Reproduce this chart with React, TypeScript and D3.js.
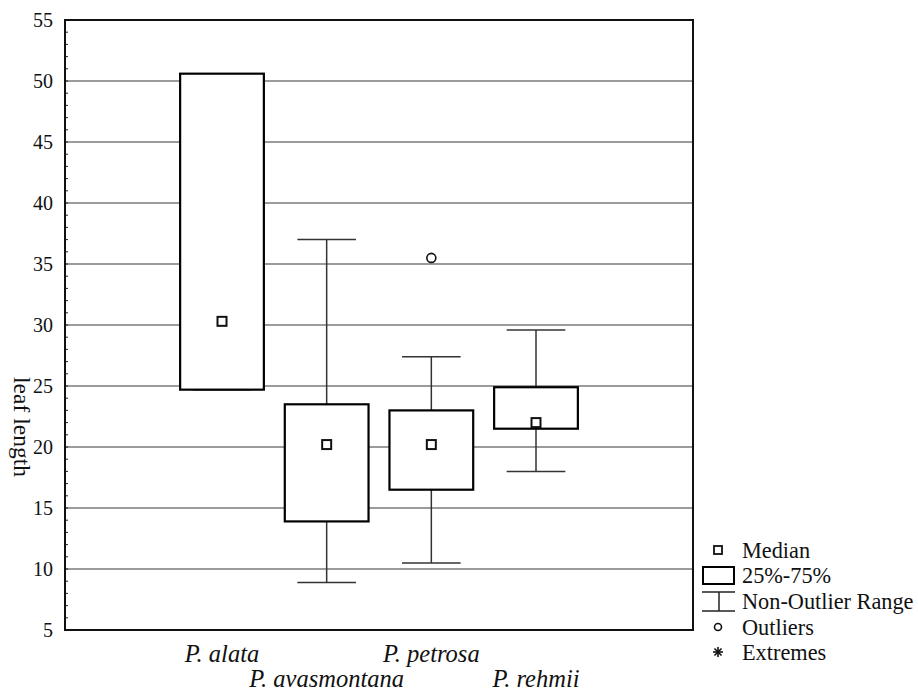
import React from "react";
import * as d3 from "d3";

const categories = ["P. alata", "P. avasmontana", "P. petrosa", "P. rehmii"];
const medians = [30.3, 20.2, 20.2, 22.0];
const q1 = [24.7, 13.9, 16.5, 21.5];
const q3 = [50.6, 23.5, 23.0, 24.9];
const whiskerMin = [24.7, 8.9, 10.5, 18.0];
const whiskerMax = [50.6, 37.0, 27.4, 29.6];
const outliers: number[][] = [[], [], [35.5], []];
const yTicks = [5, 10, 15, 20, 25, 30, 35, 40, 45, 50, 55];
const legendLabels = ["Median", "25%-75%", "Non-Outlier Range", "Outliers", "Extremes"];

const W = 918, H = 692;
const L = 65, R = 693, T = 20, B = 630;
const FONT = "Liberation Serif";

export default function App() {
  const y = d3.scaleLinear().domain([5, 55]).range([B, T]);
  const x = d3.scaleLinear().domain([0, 6]).range([L, R]);
  const slot = x(1) - x(0);
  const boxHalf = slot * 0.4;
  const capHalf = slot * 0.28;
  const minorTicks = d3.range(5, 56, 1);

  const legendX = 718;
  const legendYs = [550, 575, 601, 627, 652];

  return (
    <svg width={W} height={H} style={{ position: "absolute", left: 0, top: 0, background: "#fff" }}>
      <rect x={0} y={0} width={W} height={H} fill="#fff" />
      {yTicks.slice(1, -1).map((t) => (
        <line key={"g" + t} x1={L} x2={R} y1={y(t)} y2={y(t)} stroke="#7a7a7a" strokeWidth={1.5} />
      ))}
      {minorTicks.map((t) => (
        <line key={"m" + t} x1={L} x2={L + 3} y1={y(t)} y2={y(t)} stroke="#222" strokeWidth={1} />
      ))}
      <rect x={L} y={T} width={R - L} height={B - T} fill="none" stroke="#111" strokeWidth={2} />
      {yTicks.map((t) => (
        <text key={"t" + t} x={53} y={y(t)} dy="0.35em" textAnchor="end" fontSize={20} fill="#111" style={{ fontFamily: FONT }}>
          {t}
        </text>
      ))}
      <text transform={`translate(14, ${427}) rotate(90)`} textAnchor="middle" fontSize={23.5} fill="#111" style={{ fontFamily: FONT }}>
        leaf length
      </text>
      {categories.map((c, i) => {
        const cx = x(i + 1.5);
        return (
          <g key={c}>
            <line x1={cx} x2={cx} y1={y(whiskerMax[i])} y2={y(q3[i])} stroke="#333" strokeWidth={1.5} />
            <line x1={cx} x2={cx} y1={y(q1[i])} y2={y(whiskerMin[i])} stroke="#333" strokeWidth={1.5} />
            <line x1={cx - capHalf} x2={cx + capHalf} y1={y(whiskerMax[i])} y2={y(whiskerMax[i])} stroke="#333" strokeWidth={1.5} />
            <line x1={cx - capHalf} x2={cx + capHalf} y1={y(whiskerMin[i])} y2={y(whiskerMin[i])} stroke="#333" strokeWidth={1.5} />
            <rect x={cx - boxHalf} y={y(q3[i])} width={boxHalf * 2} height={y(q1[i]) - y(q3[i])} fill="#fff" stroke="#000" strokeWidth={2.2} />
            <rect x={cx - 4.5} y={y(medians[i]) - 4.5} width={9} height={9} fill="#fff" stroke="#111" strokeWidth={2} />
            {outliers[i].map((o, k) => (
              <circle key={k} cx={cx} cy={y(o)} r={4.5} fill="#fff" stroke="#111" strokeWidth={1.6} />
            ))}
            <text x={cx} y={i % 2 === 0 ? 662 : 687} textAnchor="middle" fontSize={24.5} fontStyle="italic" fill="#111" style={{ fontFamily: FONT }}>
              {c}
            </text>
          </g>
        );
      })}
      <g>
        <rect x={legendX - 4} y={legendYs[0] - 4} width={8} height={8} fill="#fff" stroke="#111" strokeWidth={1.8} />
        <rect x={703} y={567} width={31} height={17} fill="#fff" stroke="#000" strokeWidth={2} />
        <line x1={702} x2={735} y1={592} y2={592} stroke="#222" strokeWidth={1.5} />
        <line x1={719} x2={719} y1={592} y2={611} stroke="#222" strokeWidth={1.5} />
        <line x1={702} x2={735} y1={611} y2={611} stroke="#222" strokeWidth={1.5} />
        <circle cx={legendX} cy={legendYs[3]} r={3.5} fill="#fff" stroke="#111" strokeWidth={1.6} />
        <g stroke="#111" strokeWidth={1.6}>
          {[0, 45, 90, 135].map((a) => {
            const r = 5;
            const rad = (a * Math.PI) / 180;
            return (
              <line key={a} x1={legendX - r * Math.cos(rad)} x2={legendX + r * Math.cos(rad)} y1={legendYs[4] - r * Math.sin(rad)} y2={legendYs[4] + r * Math.sin(rad)} />
            );
          })}
        </g>
        {legendLabels.map((l, i) => (
          <text key={l} x={742} y={legendYs[i]} dy="0.35em" fontSize={22.3} fill="#111" style={{ fontFamily: FONT }}>
            {l}
          </text>
        ))}
      </g>
    </svg>
  );
}
